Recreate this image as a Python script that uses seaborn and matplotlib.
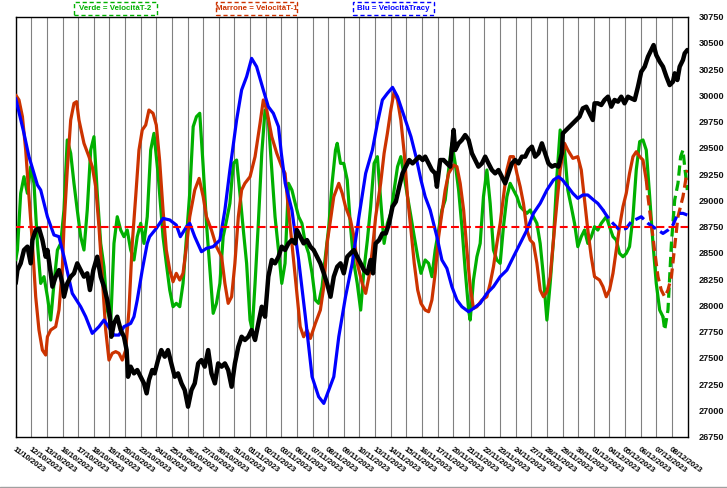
import matplotlib
matplotlib.use("Agg")
import matplotlib.pyplot as plt
import seaborn as sns
import pandas as pd
from matplotlib.lines import Line2D
from matplotlib.patches import Rectangle

# ---------------- data ----------------
dates = ["11/10/2023", "12/10/2023", "13/10/2023", "16/10/2023", "17/10/2023", "18/10/2023",
         "19/10/2023", "20/10/2023", "23/10/2023", "24/10/2023", "25/10/2023", "26/10/2023",
         "27/10/2023", "30/10/2023", "31/10/2023", "01/11/2023", "02/11/2023", "03/11/2023",
         "06/11/2023", "07/11/2023", "08/11/2023", "09/11/2023", "10/11/2023", "13/11/2023",
         "14/11/2023", "15/11/2023", "16/11/2023", "17/11/2023", "20/11/2023", "21/11/2023",
         "22/11/2023", "23/11/2023", "24/11/2023", "27/11/2023", "28/11/2023", "29/11/2023",
         "30/11/2023", "01/12/2023", "04/12/2023", "05/12/2023", "06/12/2023", "07/12/2023",
         "08/12/2023"]

yticks = list(range(26750, 30751, 250))
ref_level = 28750

# time in trading-day units (0 = start of 11/10/2023)
blue_t = [0.0, 0.53, 0.85, 1.39, 1.6, 2.03, 2.45, 2.77, 3.09, 3.62, 4.16, 4.48, 4.9, 5.33, 5.65,
          6.08, 6.29, 6.61, 6.93, 7.36, 7.57, 7.78, 8.1, 8.42, 8.57, 9.0, 9.43, 9.86, 10.28, 10.54,
          10.93, 11.14, 11.46, 11.89, 12.21, 12.64, 13.07, 13.39, 13.71, 14.14, 14.46, 14.78, 15.1,
          15.42, 15.85, 16.17, 16.49, 16.82, 17.0, 17.25, 17.68, 18.11, 18.54, 18.97, 19.39, 19.72,
          20.04, 20.36, 20.68, 21.11, 21.54, 21.97, 22.4, 22.83, 23.15, 23.47, 23.79, 24.12, 24.44,
          24.87, 25.3, 25.62, 25.94, 26.21, 26.53, 26.96, 27.28, 27.6, 27.92, 28.24, 28.56, 28.99,
          29.3, 29.73, 30.16, 30.58, 31.01, 31.44, 31.86, 32.29, 32.72, 33.14, 33.57, 34.0, 34.42,
          34.74, 35.0, 35.34, 35.66, 35.98, 36.3, 36.62, 36.99, 37.26, 37.59, 37.8, 38.12, 38.44,
          38.65, 39.08, 39.4, 39.83, 40.04, 40.47, 40.79, 41.11, 41.43, 41.75, 42.07, 42.39, 42.71,
          42.99]
blue_v = [29972, 29639, 29417, 29147, 29099, 28845, 28671, 28655, 28464, 28115, 27988, 27893, 27734,
          27798, 27861, 27766, 27718, 27718, 27798, 27829, 27893, 28052, 28337, 28591, 28655, 28734,
          28829, 28814, 28766, 28655, 28750, 28782, 28655, 28512, 28544, 28560, 28623, 28909, 29290,
          29766, 30052, 30179, 30353, 30274, 30052, 29893, 29830, 29703, 29450, 29163, 28909, 28433,
          27893, 27321, 27131, 27067, 27194, 27321, 27702, 28083, 28401, 28845, 29258, 29480, 29734,
          29957, 30020, 30077, 29988, 29798, 29607, 29417, 29195, 29036, 28909, 28655, 28433, 28353,
          28179, 28052, 27988, 27940, 27972, 28020, 28115, 28179, 28274, 28337, 28464, 28591, 28718,
          28877, 28972, 29099, 29195, 29226, 29195, 29131, 29068, 29020, 29052, 29052, 29004, 28972,
          28909, 28861, 28798, 28750, 28718, 28734, 28798, 28829, 28845, 28782, 28750, 28718, 28686,
          28718, 28766, 28877, 28877, 28861]

red_t = [0.0, 0.21, 0.43, 0.64, 0.85, 1.07, 1.28, 1.49, 1.71, 1.92, 2.03, 2.24, 2.56, 2.77, 2.99,
         3.09, 3.3, 3.52, 3.73, 3.9, 4.05, 4.37, 4.69, 4.9, 5.12, 5.33, 5.54, 5.76, 5.97, 6.18, 6.4,
         6.61, 6.82, 7.04, 7.25, 7.46, 7.68, 7.89, 8.1, 8.32, 8.53, 8.79, 9.0, 9.21, 9.43, 9.64,
         9.86, 10.07, 10.28, 10.5, 10.71, 10.93, 11.14, 11.46, 11.74, 12.0, 12.21, 12.53, 12.85,
         13.18, 13.39, 13.6, 13.82, 14.03, 14.25, 14.46, 14.67, 15.0, 15.32, 15.64, 15.85, 16.07,
         16.39, 16.71, 17.03, 17.24, 17.46, 17.68, 18.0, 18.21, 18.43, 18.64, 18.86, 19.18, 19.5,
         19.72, 19.93, 20.15, 20.36, 20.68, 20.9, 21.11, 21.43, 21.65, 21.86, 22.18, 22.4, 22.61,
         22.83, 23.04, 23.36, 23.58, 23.79, 24.01, 24.22, 24.44, 24.65, 24.87, 25.08, 25.3, 25.51,
         25.73, 25.94, 26.21, 26.43, 26.64, 26.85, 27.07, 27.28, 27.49, 27.71, 28.03, 28.24, 28.45,
         28.67, 28.88, 29.09, 29.3, 29.52, 29.84, 30.16, 30.37, 30.58, 30.8, 31.01, 31.22, 31.44,
         31.65, 31.86, 32.08, 32.29, 32.5, 32.72, 32.93, 33.14, 33.36, 33.57, 33.78, 34.0, 34.21,
         34.42, 34.64, 34.85, 35.13, 35.34, 35.66, 35.98, 36.2, 36.41, 36.62, 36.84, 37.05, 37.37,
         37.59, 37.8, 38.01, 38.23, 38.44, 38.65, 38.87, 39.08, 39.29, 39.51, 39.72, 39.94, 40.15,
         40.36, 40.47, 40.68, 40.89, 41.11, 41.32, 41.54, 41.75, 41.97, 42.18, 42.39, 42.71, 42.99]
red_v = [30004, 29957, 29798, 29480, 29036, 28591, 28083, 27766, 27575, 27528, 27702, 27766, 27798,
         27956, 28369, 28750, 29290, 29766, 29925, 29941, 29766, 29544, 29417, 29322, 29131, 28750,
         28274, 27766, 27480, 27544, 27560, 27544, 27480, 27575, 27956, 28591, 29036, 29480, 29671,
         29718, 29861, 29830, 29718, 29385, 28909, 28528, 28337, 28226, 28306, 28242, 28306, 28560,
         28845, 29099, 29210, 29036, 28845, 28718, 28560, 28464, 28210, 28020, 28083, 28401, 28845,
         29099, 29163, 29226, 29417, 29734, 29957, 29861, 29607, 29449, 29322, 29258, 28909, 28591,
         28115, 27798, 27702, 27766, 27686, 27829, 27956, 28179, 28591, 28814, 29036, 29163, 29068,
         28941, 28814, 28655, 28401, 28210, 28115, 28274, 28528, 28845, 29163, 29449, 29639, 29861,
         30036, 29957, 29766, 29449, 29036, 28718, 28401, 28147, 28020, 27956, 27940, 28052, 28306,
         28655, 28877, 29099, 29258, 29337, 29322, 29163, 28909, 28528, 28179, 27972, 27988, 28052,
         28083, 28210, 28369, 28591, 28782, 29036, 29290, 29417, 29417, 29258, 29131, 28972, 28718,
         28623, 28591, 28401, 28147, 28083, 28131, 28274, 28623, 28972, 29290, 29544, 29480, 29401,
         29417, 29290, 29004, 28718, 28464, 28274, 28242, 28179, 28083, 28147, 28306, 28528, 28750,
         28941, 29068, 29258, 29417, 29464, 29417, 29385, 29195, 29036, 28782, 28528, 28274, 28147,
         28083, 28147, 28274, 28560, 28845, 29036, 29290]

green_t = [0.0, 0.11, 0.32, 0.53, 0.75, 0.96, 1.17, 1.39, 1.6, 1.81, 2.03, 2.24, 2.45, 2.67, 2.88,
           3.09, 3.3, 3.52, 3.73, 3.94, 4.16, 4.37, 4.58, 4.8, 5.01, 5.22, 5.44, 5.65, 5.86, 6.08,
           6.29, 6.5, 6.72, 6.93, 7.14, 7.36, 7.57, 7.78, 8.0, 8.21, 8.42, 8.64, 8.85, 9.11, 9.43,
           9.64, 9.86, 10.07, 10.28, 10.5, 10.71, 10.93, 11.14, 11.36, 11.57, 11.78, 12.0, 12.21,
           12.43, 12.64, 12.85, 13.07, 13.28, 13.5, 13.71, 13.93, 14.14, 14.35, 14.57, 14.78, 15.0,
           15.14, 15.32, 15.53, 15.75, 15.96, 16.17, 16.39, 16.6, 16.82, 17.03, 17.24, 17.46, 17.68,
           17.89, 18.11, 18.32, 18.54, 18.75, 18.97, 19.18, 19.39, 19.61, 19.82, 20.04, 20.25, 20.47,
           20.58, 20.79, 21.0, 21.22, 21.43, 21.65, 21.86, 22.08, 22.29, 22.51, 22.72, 22.94, 23.15,
           23.36, 23.58, 23.79, 24.01, 24.22, 24.44, 24.65, 24.87, 25.08, 25.3, 25.51, 25.73, 25.94,
           26.21, 26.43, 26.64, 26.85, 27.07, 27.28, 27.49, 27.71, 27.92, 28.13, 28.35, 28.56, 28.77,
           28.99, 29.09, 29.3, 29.52, 29.73, 29.94, 30.16, 30.37, 30.58, 30.8, 31.01, 31.22, 31.44,
           31.65, 31.86, 32.08, 32.29, 32.5, 32.72, 32.93, 33.14, 33.36, 33.57, 33.78, 34.0, 34.21,
           34.42, 34.64, 34.85, 35.13, 35.34, 35.56, 35.77, 35.98, 36.2, 36.41, 36.62, 36.84, 37.05,
           37.26, 37.48, 37.8, 38.01, 38.23, 38.44, 38.65, 38.87, 39.08, 39.29, 39.51, 39.72, 39.94,
           40.15, 40.36, 40.58, 40.79, 41.0, 41.22, 41.43, 41.54, 41.75, 41.97, 42.18, 42.39, 42.56,
           42.71, 42.82, 42.99]
green_v = [28433, 28528, 29068, 29226, 29068, 29322, 29163, 28591, 28210, 28274, 28083, 27861, 28210,
           28528, 28591, 28909, 29576, 29449, 29163, 28909, 28655, 28528, 28909, 29480, 29607, 29068,
           28591, 28369, 27956, 27829, 28591, 28845, 28718, 28655, 28718, 28528, 28433, 28655, 28782,
           28591, 28845, 29480, 29639, 29258, 28655, 28401, 28147, 27988, 28020, 27988, 28210, 28655,
           29068, 29703, 29798, 29830, 29322, 28782, 28337, 27925, 28020, 28210, 28655, 28814, 28972,
           29353, 29385, 29068, 28718, 28401, 27861, 27766, 28210, 28782, 29449, 29861, 29766, 29290,
           28845, 28528, 28210, 28401, 29163, 29099, 28972, 28845, 28782, 28591, 28496, 28306, 28052,
           28020, 28179, 28464, 28750, 29163, 29480, 29544, 29353, 29353, 29195, 28750, 28401, 28210,
           27956, 28337, 28623, 28941, 29353, 29417, 29004, 28591, 28782, 28877, 29099, 29322, 29417,
           29226, 29036, 28845, 28655, 28464, 28306, 28433, 28401, 28274, 28528, 28718, 28909, 29004,
           29290, 29544, 29353, 29099, 28750, 28337, 27956, 27861, 28242, 28464, 28591, 29036, 29290,
           28972, 28528, 28433, 28401, 28750, 29036, 29163, 29099, 29036, 28941, 28909, 28877, 28909,
           28845, 28782, 28591, 28274, 27861, 28210, 28623, 29226, 29671, 29480, 29099, 28941, 28782,
           28560, 28655, 28718, 28591, 28655, 28750, 28718, 28782, 28845, 28750, 28655, 28623, 28496,
           28464, 28496, 28560, 28845, 29290, 29560, 29576, 29480, 29036, 28591, 28210, 27956, 27893,
           27766, 27956, 28591, 29004, 29163, 29417, 29480, 29322, 29099]

black_t = [0.0, 0.11, 0.32, 0.53, 0.75, 0.96, 1.07, 1.28, 1.49, 1.71, 1.92, 2.03, 2.24, 2.35, 2.56,
           2.77, 2.99, 3.09, 3.3, 3.52, 3.73, 3.94, 4.16, 4.37, 4.58, 4.75, 4.97, 5.22, 5.44, 5.65,
           5.86, 6.03, 6.12, 6.29, 6.5, 6.72, 6.93, 7.1, 7.19, 7.36, 7.57, 7.78, 8.0, 8.21, 8.38,
           8.53, 8.74, 8.89, 9.11, 9.32, 9.54, 9.75, 9.96, 10.18, 10.39, 10.61, 10.82, 11.03, 11.25,
           11.46, 11.68, 11.89, 12.1, 12.32, 12.53, 12.75, 12.96, 13.18, 13.39, 13.6, 13.82, 14.03,
           14.25, 14.46, 14.67, 14.89, 15.1, 15.32, 15.53, 15.75, 15.96, 16.17, 16.39, 16.6, 16.82,
           17.03, 17.24, 17.46, 17.68, 17.89, 18.0, 18.21, 18.43, 18.64, 18.86, 19.07, 19.29, 19.5,
           19.72, 19.93, 20.15, 20.36, 20.58, 20.79, 21.0, 21.22, 21.43, 21.65, 21.86, 22.08, 22.29,
           22.51, 22.72, 22.87, 23.04, 23.26, 23.47, 23.69, 23.9, 24.12, 24.33, 24.55, 24.76, 24.97,
           25.19, 25.4, 25.62, 25.83, 26.05, 26.21, 26.43, 26.64, 26.85, 26.96, 27.17, 27.39, 27.6,
           27.81, 28.03, 28.13, 28.35, 28.56, 28.77, 28.99, 29.2, 29.41, 29.62, 29.84, 30.05, 30.26,
           30.48, 30.69, 30.9, 31.12, 31.33, 31.54, 31.76, 31.97, 32.18, 32.4, 32.61, 32.82, 33.04,
           33.25, 33.46, 33.68, 33.89, 34.1, 34.32, 34.53, 34.74, 34.96, 35.02, 35.24, 35.45, 35.66,
           35.88, 36.09, 36.3, 36.52, 36.73, 36.94, 37.05, 37.26, 37.48, 37.69, 37.91, 38.12, 38.33,
           38.55, 38.76, 38.97, 39.19, 39.4, 39.62, 39.83, 40.04, 40.26, 40.47, 40.68, 40.83, 41.0,
           41.22, 41.43, 41.65, 41.86, 42.07, 42.18, 42.35, 42.5, 42.71, 42.82, 42.99]
black_v = [28210, 28337, 28401, 28528, 28560, 28401, 28623, 28718, 28734, 28623, 28464, 28528, 28306,
           28179, 28274, 28337, 28210, 28083, 28210, 28274, 28306, 28401, 28337, 28274, 28306, 28147,
           28337, 28464, 28274, 28179, 28052, 27893, 27702, 27829, 27893, 27766, 27702, 27575, 27321,
           27417, 27353, 27385, 27321, 27258, 27163, 27290, 27385, 27353, 27480, 27575, 27512, 27575,
           27448, 27321, 27353, 27258, 27194, 27036, 27194, 27258, 27448, 27480, 27417, 27575, 27353,
           27258, 27448, 27417, 27448, 27385, 27226, 27448, 27607, 27702, 27671, 27702, 27766, 27671,
           27829, 27988, 27893, 28274, 28433, 28401, 28464, 28560, 28528, 28591, 28623, 28591, 28718,
           28655, 28591, 28623, 28560, 28528, 28464, 28401, 28306, 28210, 28083, 28274, 28369, 28401,
           28306, 28464, 28496, 28528, 28464, 28401, 28337, 28306, 28433, 28306, 28591, 28623, 28686,
           28686, 28782, 28941, 28988, 29131, 29258, 29322, 29385, 29353, 29385, 29417, 29385, 29417,
           29353, 29290, 29258, 29131, 29385, 29385, 29353, 29322, 29671, 29480, 29544, 29576, 29623,
           29576, 29449, 29385, 29322, 29353, 29417, 29353, 29290, 29258, 29290, 29226, 29163, 29258,
           29353, 29385, 29353, 29417, 29417, 29480, 29512, 29417, 29449, 29544, 29449, 29353, 29322,
           29337, 29322, 29449, 29639, 29671, 29703, 29734, 29766, 29798, 29877, 29893, 29830, 29766,
           29925, 29925, 29909, 29957, 29988, 29893, 29957, 29941, 29988, 29925, 29988, 29972, 29957,
           30084, 30226, 30274, 30369, 30433, 30480, 30385, 30322, 30274, 30179, 30099, 30131, 30211,
           30147, 30274, 30338, 30401, 30433]

# ---------------- style ----------------
C_GREEN = "#00b000"
C_RED = "#cc3300"
C_BLUE = "#0000ff"
dash_from = {"green": 41.43, "red": 40.36, "blue": 37.59}

sns.set_theme(style="white")
plt.rcParams["font.family"] = ["Liberation Sans", "DejaVu Sans"]

fig = plt.figure(figsize=(7.27, 4.88), dpi=100)
ax = fig.add_axes([15.7 / 727, 1 - 436.7 / 488, (687.5 - 15.7) / 727, (436.7 - 16.7) / 488])


def draw(t, v, color, lw, z, cut=None):
    df = pd.DataFrame({"t": t, "v": v})
    if cut is None:
        sns.lineplot(data=df, x="t", y="v", ax=ax, color=color, lw=lw, sort=False,
                     estimator=None, zorder=z)
        return
    solid = df[df.t <= cut]
    dashed = df[df.t >= cut]
    sns.lineplot(data=solid, x="t", y="v", ax=ax, color=color, lw=lw, sort=False,
                 estimator=None, zorder=z)
    sns.lineplot(data=dashed, x="t", y="v", ax=ax, color=color, lw=lw, sort=False,
                 estimator=None, zorder=z, linestyle=(0, (3.2, 1.6)))


draw(green_t, green_v, C_GREEN, 2.3, 3, dash_from["green"])
draw(red_t, red_v, C_RED, 2.3, 4, dash_from["red"])
draw(blue_t, blue_v, C_BLUE, 2.3, 5, dash_from["blue"])
ax.axhline(ref_level, color="#ff0000", lw=1.5, linestyle=(0, (3.8, 2.0)), zorder=6)
draw(black_t, black_v, "black", 3.2, 7)

ax.set_xlim(0, 43)
ax.set_ylim(yticks[0], yticks[-1])
ax.set_xlabel("")
ax.set_ylabel("")

ax.set_xticks(range(len(dates)))
ax.set_xticklabels(dates, rotation=-36, ha="left", va="top", rotation_mode="anchor",
                   fontsize=5.6, fontweight="bold", color="black")
ax.tick_params(axis="x", length=0, pad=7)
ax.yaxis.tick_right()
ax.set_yticks(yticks)
ax.set_yticklabels([str(y) for y in yticks], fontsize=6.6, fontweight="bold", color="#111111")
ax.tick_params(axis="y", length=0, pad=8)

ax.grid(False)
for d in range(len(dates)):
    ax.axvline(d, color="#808080", lw=0.8, zorder=1)

for s in ax.spines.values():
    s.set_visible(True)
    s.set_color("black")
    s.set_linewidth(1.0)

# legend-like captions with dashed frames
captions = [("Verde = VelocitàT-2", C_GREEN, 74, 157),
            ("Marrone = VelocitàT-1", C_RED, 216, 297),
            ("Blu = VelocitàTracy", C_BLUE, 353, 434)]
for txt, col, x0, x1 in captions:
    fig.add_artist(Rectangle((x0 / 727, 1 - 15 / 488), (x1 - x0) / 727, 13 / 488,
                             transform=fig.transFigure, fill=False, edgecolor=col,
                             lw=1.0, linestyle=(0, (3, 2))))
    fig.text((x0 + x1) / 2 / 727, 1 - 8.6 / 488, txt, color=col, fontsize=5.7,
             fontweight="bold", ha="center", va="center")

fig.add_artist(Line2D([0, 1], [1.5 / 488, 1.5 / 488], transform=fig.transFigure,
                      color="#a0a0a0", lw=1.0))

fig.savefig("out.png", dpi=100)
